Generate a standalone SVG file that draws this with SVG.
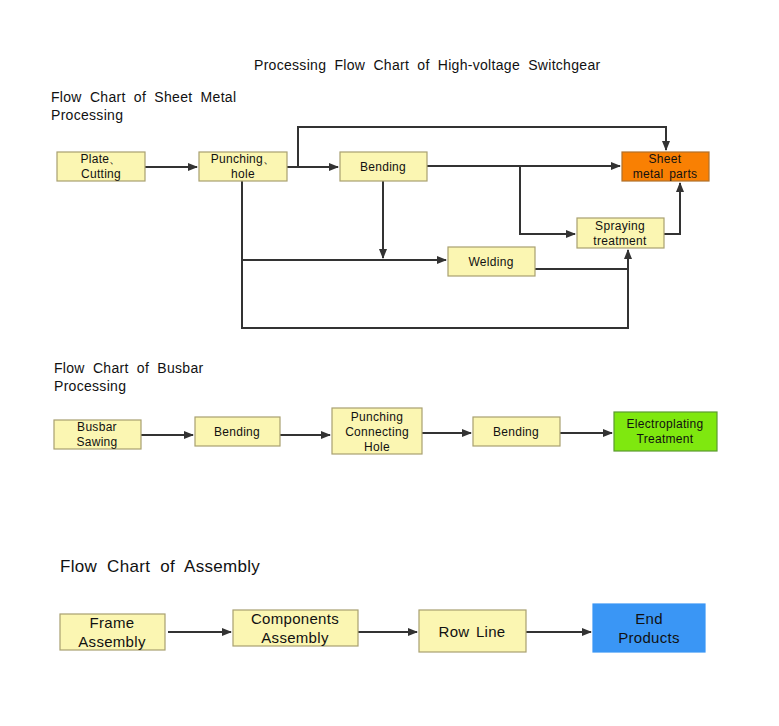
<svg xmlns="http://www.w3.org/2000/svg" width="779" height="726" viewBox="0 0 779 726">
<style>
text{font-family:"Liberation Sans",Arial,sans-serif;fill:#111;text-anchor:middle;letter-spacing:0.3px}
.h{text-anchor:start;font-size:14px;word-spacing:4px}
.n rect{fill:#FBF6B2;stroke:#A8A070;stroke-width:1.2}
.n text{font-size:12px;word-spacing:2px}
.b text{font-size:15px}
.c{fill:none;stroke:#333;stroke-width:2}
</style>
<defs><marker id="a" markerWidth="10" markerHeight="8" refX="9" refY="4" orient="auto" markerUnits="userSpaceOnUse"><path d="M0,0L10,4L0,8z" fill="#333"/></marker></defs>
<rect width="779" height="726" fill="#fff"/>
<text class="h" x="254" y="70">Processing Flow Chart of High-voltage Switchgear</text>
<text class="h" x="51" y="102">Flow Chart of Sheet Metal</text>
<text class="h" x="51" y="120">Processing</text>
<text class="h" x="54" y="373">Flow Chart of Busbar</text>
<text class="h" x="54" y="391">Processing</text>
<text class="h" x="60" y="572" style="font-size:17px;word-spacing:5px">Flow Chart of Assembly</text>
<g id="connectors">
<path class="c" d="M145,167H197" marker-end="url(#a)"/>
<path class="c" d="M287,167H338" marker-end="url(#a)"/>
<path class="c" d="M298,167V127H666V150" marker-end="url(#a)"/>
<path class="c" d="M427,166H620" marker-end="url(#a)"/>
<path class="c" d="M520,166V234H575" marker-end="url(#a)"/>
<path class="c" d="M664,234H680V183" marker-end="url(#a)"/>
<path class="c" d="M383,181V258" marker-end="url(#a)"/>
<path class="c" d="M242,181V328H628V250" marker-end="url(#a)"/>
<path class="c" d="M242,260H446" marker-end="url(#a)"/>
<path class="c" d="M535,269H628"/>
<path class="c" d="M141,435H193" marker-end="url(#a)"/>
<path class="c" d="M280,435H330" marker-end="url(#a)"/>
<path class="c" d="M422,433H471" marker-end="url(#a)"/>
<path class="c" d="M560,433H612" marker-end="url(#a)"/>
<path class="c" d="M168,632H231" marker-end="url(#a)"/>
<path class="c" d="M358,632H417" marker-end="url(#a)"/>
<path class="c" d="M526,632H591" marker-end="url(#a)"/>
</g>
<g id="plate" class="n"><rect x="57" y="152" width="88" height="29"/><text x="101" y="163">Plate、</text><text x="101" y="178">Cutting</text></g>
<g id="punching" class="n"><rect x="199" y="152" width="88" height="29"/><text x="243" y="163">Punching、</text><text x="243" y="178">hole</text></g>
<g id="bending1" class="n"><rect x="340" y="152" width="87" height="29"/><text x="383" y="171">Bending</text></g>
<g id="sheet" class="n"><rect x="622" y="152" width="87" height="29" style="fill:#F98003;stroke:#B0702A"/><text x="665" y="163">Sheet</text><text x="665" y="178">metal parts</text></g>
<g id="spraying" class="n"><rect x="577" y="218" width="87" height="30"/><text x="620" y="230">Spraying</text><text x="620" y="245">treatment</text></g>
<g id="welding" class="n"><rect x="448" y="247" width="87" height="29"/><text x="491" y="266">Welding</text></g>
<g id="busbar" class="n"><rect x="54" y="420" width="87" height="29"/><text x="97" y="431">Busbar</text><text x="97" y="446">Sawing</text></g>
<g id="bending2" class="n"><rect x="195" y="417" width="85" height="29"/><text x="237" y="436">Bending</text></g>
<g id="punchhole" class="n"><rect x="332" y="408" width="90" height="46"/><text x="377" y="421">Punching</text><text x="377" y="436">Connecting</text><text x="377" y="451">Hole</text></g>
<g id="bending3" class="n"><rect x="473" y="417" width="87" height="29"/><text x="516" y="436">Bending</text></g>
<g id="electro" class="n"><rect x="614" y="412" width="103" height="39" style="fill:#7FE80F;stroke:#5A9A30"/><text x="665" y="428">Electroplating</text><text x="665" y="443">Treatment</text></g>
<g id="frame" class="n b"><rect x="60" y="614" width="105" height="36"/><text x="112" y="628">Frame</text><text x="112" y="647">Assembly</text></g>
<g id="components" class="n b"><rect x="233" y="610" width="125" height="36"/><text x="295" y="624">Components</text><text x="295" y="643">Assembly</text></g>
<g id="rowline" class="n b"><rect x="419" y="610" width="107" height="42"/><text x="472" y="637">Row Line</text></g>
<g id="end" class="n b"><rect x="593" y="604" width="112" height="48" style="fill:#3A96F5;stroke:#3A96F5"/><text x="649" y="624">End</text><text x="649" y="643">Products</text></g>
</svg>
